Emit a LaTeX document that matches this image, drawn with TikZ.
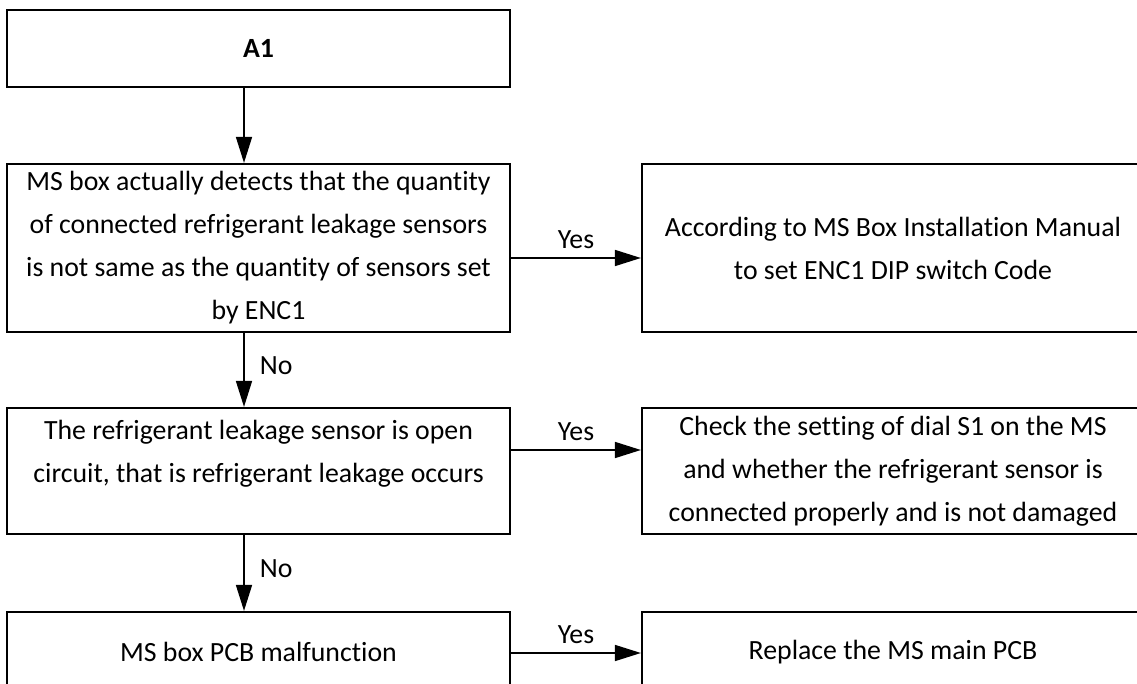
\documentclass[tikz,border=0pt]{standalone}
\usepackage{fontspec}
\setmainfont{Carlito}[Ligatures={NoCommon}]
\usetikzlibrary{arrows.meta}
\newcommand{\brk}{\kern0pt{}}
\begin{document}
\begin{tikzpicture}[x=1pt,y=-1pt,
  font=\fontsize{27.8pt}{43pt}\selectfont,
  box/.style={draw, line width=2.2pt, inner sep=0pt, align=center},
  lbox/.style={box, minimum width=503pt},
  rbox/.style={box, minimum width=502pt},
  txt/.style={inner sep=0pt, align=center},
  arr/.style={-{Triangle[length=26pt,width=16pt]}, line width=1.6pt},
  lab/.style={inner sep=0pt}
]
\useasboundingbox (0,0) rectangle (1137,684);
% boxes
\node[lbox, minimum height=77pt] (a1) at (258.5,48.5) {\textbf{A1}};
\node[lbox, minimum height=168pt] (q1) at (258.5,248)
  {MS box actually detects that the quant\brk i\brk ty\\ of connected refrigerant leakage sensors\\ is not same as the quant\brk i\brk ty of sensors set\\ by ENC1};
\node[rbox, minimum height=168pt] (r1) at (893,248)
  {According to MS Box Installat\brk ion Manual\\ to set ENC1 DIP switch Code};
\node[lbox, minimum height=126pt] (q2) at (258.5,471) {};
\node[txt] (q2t) at (258.5,453.5)
  {The refrigerant leakage sensor is open\\ circuit, that is refrigerant leakage occurs};
\node[rbox, minimum height=126pt] (r2) at (893,471)
  {Check the set\brk t\brk ing of dial S1 on the MS\\ and whether the refrigerant sensor is\\ connected properly and is not damaged};
\node[lbox, minimum height=80pt] (q3) at (258.5,652) {MS box PCB malfunct\brk ion};
\node[rbox, minimum height=80pt] (r3) at (893,652) {Replace the MS main PCB};
% guide coordinates
\coordinate (ax) at (244,0);
\coordinate (h1) at (0,258);
\coordinate (h2) at (0,450);
\coordinate (h3) at (0,653);
% vertical connectors
\draw[arr] (a1.south -| ax) -- (q1.north -| ax);
\draw[arr] (q1.south -| ax) -- node[lab, pos=0.44, right=15pt] {No} (q2.north -| ax);
\draw[arr] (q2.south -| ax) -- node[lab, pos=0.44, right=15pt] {No} (q3.north -| ax);
% horizontal connectors
\draw[arr] (q1.east |- h1) -- node[lab, midway, yshift=18pt] {Yes} (r1.west |- h1);
\draw[arr] (q2.east |- h2) -- node[lab, midway, yshift=18pt] {Yes} (r2.west |- h2);
\draw[arr] (q3.east |- h3) -- node[lab, midway, yshift=18pt] {Yes} (r3.west |- h3);
\end{tikzpicture}
\end{document}
